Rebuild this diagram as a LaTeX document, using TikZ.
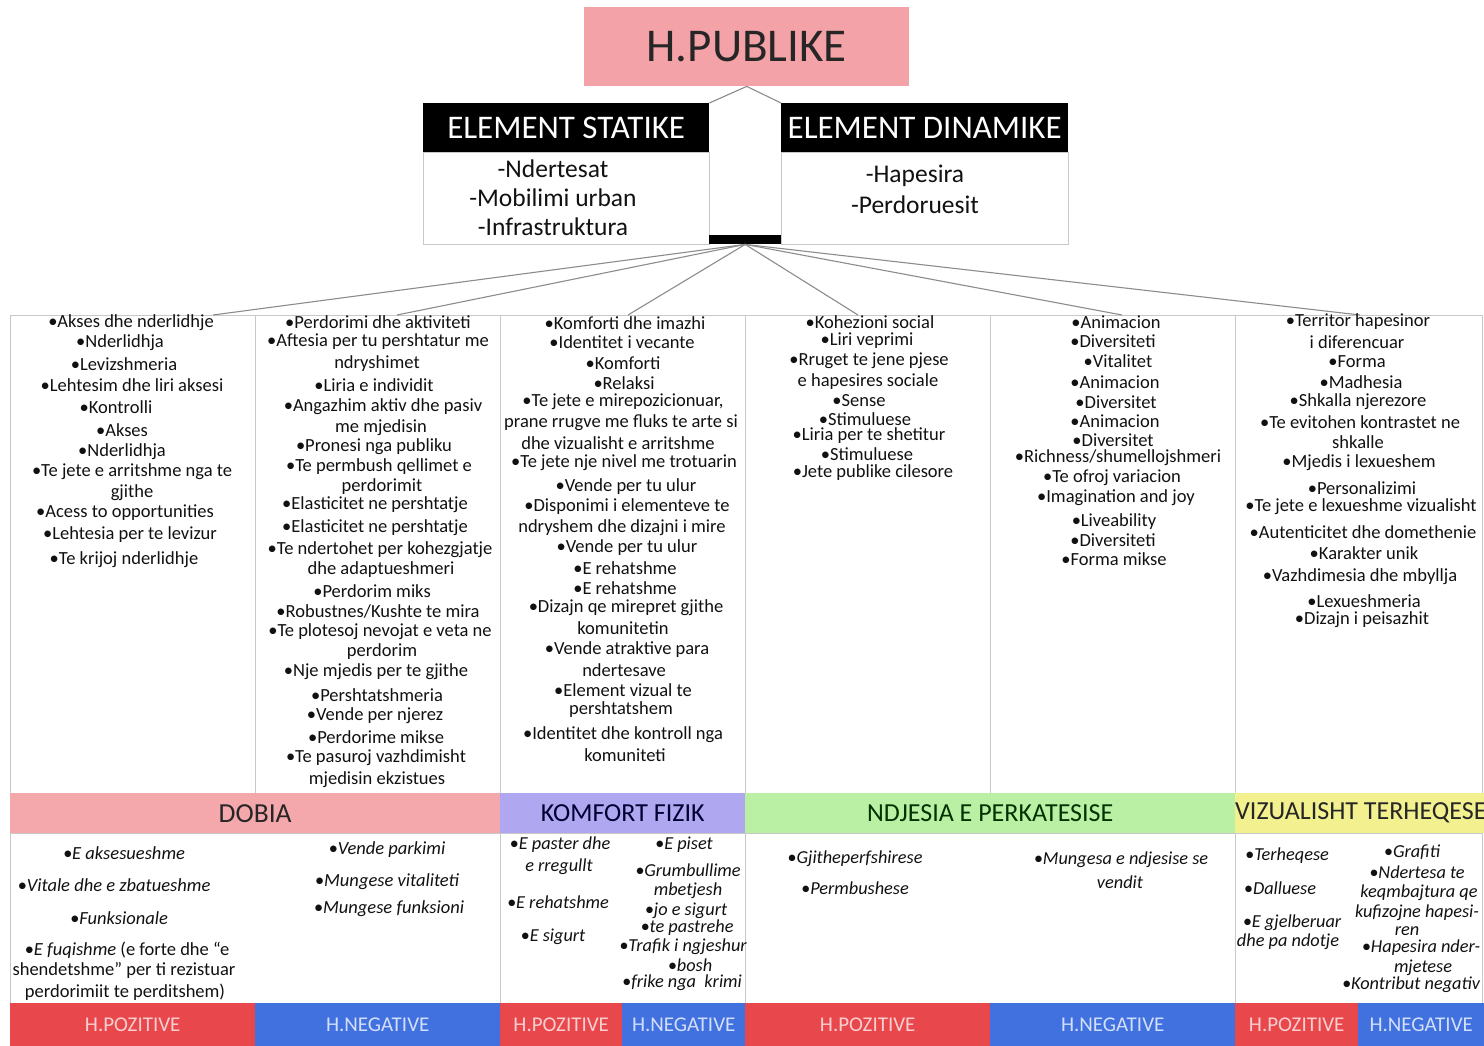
\documentclass[tikz,border=0pt]{standalone}
\usepackage{fontspec}
\setmainfont{Carlito}
\definecolor{pubpink}{HTML}{F3A2A7}
\definecolor{dobiac}{HTML}{F4A8AC}
\definecolor{komfc}{HTML}{AFA8F1}
\definecolor{ndjc}{HTML}{B9F0A4}
\definecolor{vizc}{HTML}{F3F18F}
\definecolor{posred}{HTML}{E8474B}
\definecolor{negblue}{HTML}{4171DF}
\definecolor{poslab}{HTML}{F8CFD1}
\definecolor{neglab}{HTML}{D2DEFA}
\definecolor{txt}{HTML}{111111}
\definecolor{lgray}{HTML}{C8C8C8}
\newcommand\colitem[4]{\node[coltext] (#1) at (#2,#3) {#4};}
\newcommand\botitem[4]{\node[bottext] (#1) at (#2,#3) {#4};}
\newcommand\smitem[4]{\node[smtext] (#1) at (#2,#3) {#4};}
\begin{document}
\begin{tikzpicture}[x=1pt,y=-1pt,
  conn/.style={draw=black!45, line width=1.1pt},
  colbox/.style={draw=lgray, line width=1pt, anchor=north west, minimum width=245pt, minimum height=478pt, inner sep=0pt},
  secbox/.style={draw=lgray, line width=1pt, anchor=north west, minimum height=170pt, inner sep=0pt},
  hdr/.style={fill=black, text=white, anchor=north west, minimum width=286pt, minimum height=49pt, inner sep=0pt, font=\fontsize{33}{33}\selectfont},
  bodybox/.style={draw=lgray, fill=white, line width=1pt, anchor=north west, minimum width=286pt, minimum height=92pt, inner sep=0pt},
  bodytext/.style={font=\fontsize{25.5}{26}\selectfont, text=txt, inner sep=0pt},
  band/.style={anchor=north west, minimum height=40pt, inner sep=0pt, font=\fontsize{26}{26}\selectfont},
  posbar/.style={fill=posred, text=poslab, anchor=north west, minimum height=43pt, inner sep=0pt, font=\fontsize{21}{21}\selectfont},
  negbar/.style={fill=negblue, text=neglab, anchor=north west, minimum height=43pt, inner sep=0pt, font=\fontsize{21}{21}\selectfont},
  coltext/.style={font=\fontsize{18.5}{19}\selectfont, text=txt, inner sep=0pt},
  bottext/.style={font=\fontsize{18.5}{19}\selectfont\itshape, text=txt, inner sep=0pt},
  smtext/.style={font=\fontsize{18.3}{19}\selectfont\itshape, text=txt, inner sep=0pt}
]
\useasboundingbox (0,0) rectangle (1484,1046);
\fill[white] (0,0) rectangle (1484,1046);

% ---- top
\node[fill=pubpink, anchor=north west, minimum width=325pt, minimum height=79pt, inner sep=0pt,
      font=\fontsize{47}{47}\selectfont, text=black!85] (pub) at (584,7) {H.PUBLIKE};

\node[bodybox] (statb) at (423,152) {};
\node[bodybox, minimum width=287pt] (dinb) at (781,152) {};
\node[hdr] (stath) at (423,103) {ELEMENT STATIKE};
\node[hdr, minimum width=287pt] (dinh) at (781,103) {ELEMENT DINAMIKE};
\node[bodytext] (s1) at (553,169) {-Ndertesat};
\node[bodytext] (s2) at (553,198) {-Mobilimi urban};
\node[bodytext] (s3) at (553,227) {-Infrastruktura};
\node[bodytext] (d1) at (915,176) {-Hapesira};
\node[bodytext] (d2) at (915,205) {-Perdoruesit};
\node[fill=black, anchor=north west, minimum width=72pt, minimum height=9pt, inner sep=0pt] (bar) at (709,235) {};

\draw[conn] (pub.south) -- (stath.north east);
\draw[conn] (pub.south) -- (dinh.north west);

% ---- columns
\node[colbox] (col1) at (10,315) {};
\node[colbox] (col2) at (255,315) {};
\node[colbox] (col3) at (500,315) {};
\node[colbox] (col4) at (745,315) {};
\node[colbox] (col5) at (990,315) {};
\node[colbox, minimum width=247pt] (col6) at (1235,315) {};

\coordinate (t1) at (213,315);
\coordinate (t2) at (397,315);
\coordinate (t3) at (628,315);
\coordinate (t4) at (858,315);
\coordinate (t5) at (1122,315);
\coordinate (t6) at (1360,315);
\foreach \k in {1,...,6} \draw[conn] (bar.south) -- (t\k);

% ---- bands
\node[band, fill=dobiac, minimum width=490pt, text=black!85, font=\fontsize{27.5}{28}\selectfont] (dobia) at (10,793) {DOBIA};
\node[band, fill=komfc, minimum width=245pt, text=blue!20!black] (komf) at (500,793) {KOMFORT FIZIK};
\node[band, fill=ndjc, minimum width=490pt, text=green!20!black] (ndj) at (745,793) {NDJESIA E PERKATESISE};
\node[band, fill=vizc, minimum width=249pt, text=black!85] (viz) at (1235,793) {VIZUALISHT TERHEQESE};

\node[secbox, minimum width=490pt] (sec1) at (10,833) {};
\node[secbox, minimum width=245pt] (sec2) at (500,833) {};
\node[secbox, minimum width=490pt] (sec3) at (745,833) {};
\node[secbox, minimum width=247pt] (sec4) at (1235,833) {};

% ---- bottom bars
\node[posbar, minimum width=245pt] (pz1) at (10,1003) {H.POZITIVE};
\node[negbar, minimum width=245pt] (ng1) at (255,1003) {H.NEGATIVE};
\node[posbar, minimum width=122pt] (pz2) at (500,1003) {H.POZITIVE};
\node[negbar, minimum width=123pt] (ng2) at (622,1003) {H.NEGATIVE};
\node[posbar, minimum width=245pt] (pz3) at (745,1003) {H.POZITIVE};
\node[negbar, minimum width=245pt] (ng3) at (990,1003) {H.NEGATIVE};
\node[posbar, minimum width=123pt] (pz4) at (1235,1003) {H.POZITIVE};
\node[negbar, minimum width=126pt] (ng4) at (1358,1003) {H.NEGATIVE};

% ---- column 1
\colitem{a1}{131}{323}{•Akses dhe nderlidhje}
\colitem{a2}{120}{343}{•Nderlidhja}
\colitem{a3}{124}{364}{•Levizshmeria}
\colitem{a4}{132}{385}{•Lehtesim dhe liri aksesi}
\colitem{a5}{116}{407}{•Kontrolli}
\colitem{a6}{122}{430}{•Akses}
\colitem{a7}{122}{452}{•Nderlidhja}
\colitem{a8}{132}{472}{•Te jete e arritshme nga te}
\colitem{a9}{132}{493}{gjithe}
\colitem{a10}{125}{513}{•Acess to opportunities}
\colitem{a11}{130}{535}{•Lehtesia per te levizur}
\colitem{a12}{124}{560}{•Te krijoj nderlidhje}

% ---- column 2
\colitem{b1}{378}{322}{•Perdorimi dhe aktiviteti}
\colitem{b2}{378}{342}{•Aftesia per tu pershtatur me}
\colitem{b3}{377}{364}{ndryshimet}
\colitem{b4}{374}{385}{•Liria e individit}
\colitem{b5}{383}{407}{•Angazhim aktiv dhe pasiv}
\colitem{b6}{381}{428}{me mjedisin}
\colitem{b7}{374}{447}{•Pronesi nga publiku}
\colitem{b8}{379}{467}{•Te permbush qellimet e}
\colitem{b9}{382}{487}{perdorimit}
\colitem{b10}{375}{505}{•Elasticitet ne pershtatje}
\colitem{b11}{375}{528}{•Elasticitet ne pershtatje}
\colitem{b12}{380}{550}{•Te ndertohet per kohezgjatje}
\colitem{b13}{381}{570}{dhe adaptueshmeri}
\colitem{b14}{372}{591}{•Perdorim miks}
\colitem{b15}{378}{611}{•Robustnes/Kushte te mira}
\colitem{b16}{380}{632}{•Te plotesoj nevojat e veta ne}
\colitem{b17}{382}{652}{perdorim}
\colitem{b18}{376}{672}{•Nje mjedis per te gjithe}
\colitem{b19}{377}{695}{•Pershtatshmeria}
\colitem{b20}{375}{716}{•Vende per njerez}
\colitem{b21}{376}{737}{•Perdorime mikse}
\colitem{b22}{376}{758}{•Te pasuroj vazhdimisht}
\colitem{b23}{377}{780}{mjedisin ekzistues}

% ---- column 3
\colitem{c1}{625}{323}{•Komforti dhe imazhi}
\colitem{c2}{622}{342}{•Identitet i vecante}
\colitem{c3}{623}{363}{•Komforti}
\colitem{c4}{624}{383}{•Relaksi}
\colitem{c5}{623}{402}{•Te jete e mirepozicionuar,}
\colitem{c6}{621}{423}{prane rrugve me fluks te arte si}
\colitem{c7}{618}{443}{dhe vizualisht e arritshme}
\colitem{c8}{624}{463}{•Te jete nje nivel me trotuarin}
\colitem{c9}{626}{487}{•Vende per tu ulur}
\colitem{c10}{627}{507}{•Disponimi i elementeve te}
\colitem{c11}{622}{528}{ndryshem dhe dizajni i mire}
\colitem{c12}{627}{548}{•Vende per tu ulur}
\colitem{c13}{625}{568}{•E rehatshme}
\colitem{c14}{625}{588}{•E rehatshme}
\colitem{c15}{626}{608}{•Dizajn qe mirepret gjithe}
\colitem{c16}{623}{628}{komunitetin}
\colitem{c17}{627}{650}{•Vende atraktive para}
\colitem{c18}{624}{670}{ndertesave}
\colitem{c19}{623}{690}{•Element vizual te}
\colitem{c20}{621}{710}{pershtatshem}
\colitem{c21}{623}{735}{•Identitet dhe kontroll nga}
\colitem{c22}{625}{755}{komuniteti}

% ---- column 4
\colitem{d1x}{870}{322}{•Kohezioni social}
\colitem{d2x}{867}{341}{•Liri veprimi}
\colitem{d3x}{869}{361}{•Rruget te jene pjese}
\colitem{d4x}{868}{382}{e hapesires sociale}
\colitem{d5x}{859}{401}{•Sense}
\colitem{d6x}{865}{419}{•Stimuluese}
\colitem{d7x}{869}{436}{•Liria per te shetitur}
\colitem{d8x}{867}{454}{•Stimuluese}
\colitem{d9x}{873}{473}{•Jete publike cilesore}

% ---- column 5
\colitem{e1}{1116}{322}{•Animacion}
\colitem{e2}{1113}{341}{•Diversiteti}
\colitem{e3}{1118}{361}{•Vitalitet}
\colitem{e4}{1115}{382}{•Animacion}
\colitem{e5}{1116}{402}{•Diversitet}
\colitem{e6}{1115}{421}{•Animacion}
\colitem{e7}{1113}{440}{•Diversitet}
\colitem{e8}{1118}{458}{•Richness/shumellojshmeri}
\colitem{e9}{1112}{478}{•Te ofroj variacion}
\colitem{e10}{1116}{498}{•Imagination and joy}
\colitem{e11}{1114}{522}{•Liveability}
\colitem{e12}{1113}{540}{•Diversiteti}
\colitem{e13}{1114}{559}{•Forma mikse}

% ---- column 6
\begin{scope}[every node/.append style={font=\fontsize{19.8}{20}\selectfont}]
\colitem{f1}{1358}{322}{•Territor hapesinor}
\colitem{f2}{1357}{342}{i diferencuar}
\colitem{f3}{1357}{362}{•Forma}
\colitem{f4}{1361}{382}{•Madhesia}
\colitem{f5}{1358}{402}{•Shkalla njerezore}
\colitem{f6}{1360}{422}{•Te evitohen kontrastet ne}
\colitem{f7}{1358}{442}{shkalle}
\colitem{f8}{1359}{463}{•Mjedis i lexueshem}
\colitem{f9}{1362}{488}{•Personalizimi}
\colitem{f10}{1361}{507}{•Te jete e lexueshme vizualisht}
\colitem{f11}{1363}{532}{•Autenticitet dhe domethenie}
\colitem{f12}{1364}{553}{•Karakter unik}
\colitem{f13}{1360}{577}{•Vazhdimesia dhe mbyllja}
\colitem{f14}{1364}{601}{•Lexueshmeria}
\colitem{f15}{1362}{620}{•Dizajn i peisazhit}
\end{scope}

% ---- bottom: DOBIA
\botitem{p1}{124}{853}{•E aksesueshme}
\botitem{p2}{114}{885}{•Vitale dhe e zbatueshme}
\botitem{p3}{119}{918}{•Funksionale}
\botitem{p4}{127}{950}{•E fuqishme \upshape(e forte dhe “e}
\botitem{p5}{124}{970}{\upshape shendetshme” per ti rezistuar}
\botitem{p6}{125}{992}{\upshape perdorimiit te perditshem)}
\botitem{n1}{387}{850}{•Vende parkimi}
\botitem{n2}{387}{882}{•Mungese vitaliteti}
\botitem{n3}{389}{909}{•Mungese funksioni}

% ---- bottom: KOMFORT
\smitem{kp1}{560}{845}{•E paster dhe}
\smitem{kp2}{559}{867}{e rregullt}
\smitem{kp3}{558}{902}{•E rehatshme}
\smitem{kp4}{553}{937}{•E sigurt}
\smitem{kn1}{684}{845}{•E piset}
\smitem{kn2}{688}{870}{•Grumbullime}
\smitem{kn3}{688}{891}{mbetjesh}
\smitem{kn4}{686}{911}{•jo e sigurt}
\smitem{kn5}{687}{928}{•te pastrehe}
\smitem{kn6}{683}{947}{•Trafik i ngjeshur}
\smitem{kn7}{690}{965}{•bosh}
\smitem{kn8}{682}{983}{•frike nga\ \ krimi}

% ---- bottom: NDJESIA
\smitem{np1}{855}{859}{•Gjitheperfshirese}
\smitem{np2}{855}{888}{•Permbushese}
\smitem{nn1}{1121}{860}{•Mungesa e ndjesise se}
\smitem{nn2}{1120}{882}{vendit}

% ---- bottom: VIZUALISHT
\smitem{vp1}{1287}{856}{•Terheqese}
\smitem{vp2}{1280}{888}{•Dalluese}
\smitem{vp3}{1292}{923}{•E gjelberuar}
\smitem{vp4}{1288}{942}{dhe pa ndotje}
\smitem{vn1}{1412}{852}{•Grafiti}
\smitem{vn2}{1417}{872}{•Ndertesa te}
\smitem{vn3}{1419}{893}{keqmbajtura qe}
\smitem{vn4}{1417}{913}{kufizojne hapesi-}
\smitem{vn5}{1407}{931}{ren}
\smitem{vn6}{1421}{948}{•Hapesira nder-}
\smitem{vn7}{1423}{968}{mjetese}
\smitem{vn8}{1411}{985}{•Kontribut negativ}
\end{tikzpicture}
\end{document}
